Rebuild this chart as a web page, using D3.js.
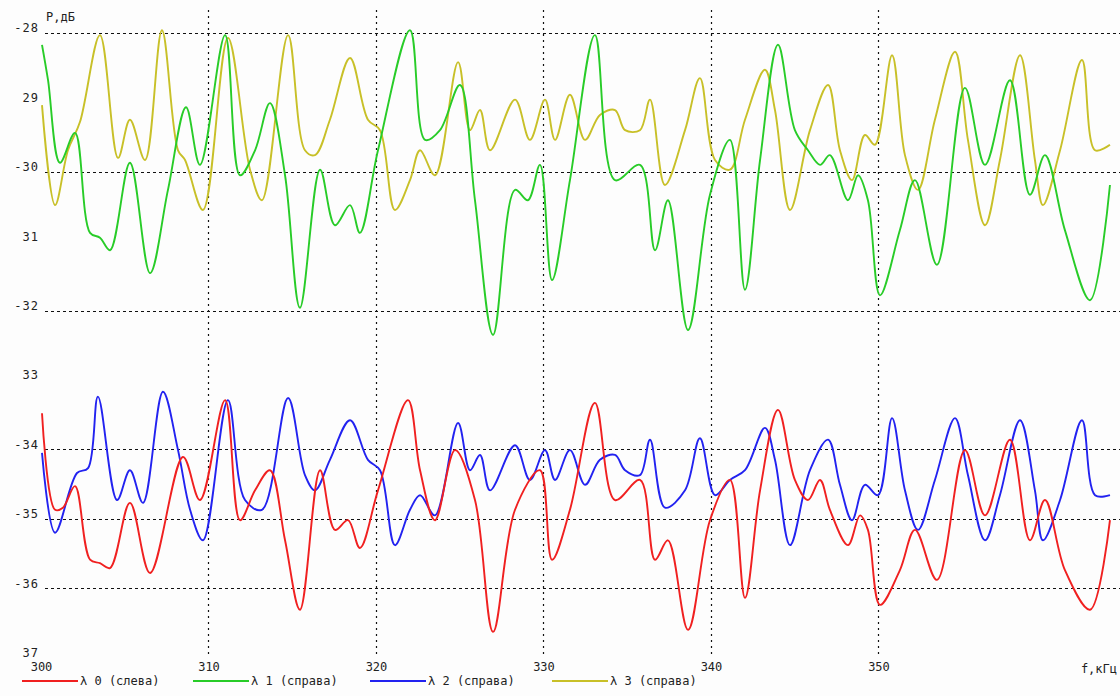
<!DOCTYPE html>
<html>
<head>
<meta charset="utf-8">
<script src="https://cdn.jsdelivr.net/npm/d3@7"></script>
<style>
  html, body { margin: 0; padding: 0; background: #fdfdfd; }
  svg { display: block; }
  text { font-family: "DejaVu Sans Mono", "Liberation Mono", monospace; fill: #222; }
</style>
</head>
<body>
<svg id="chart" width="1120" height="696"></svg>
<script>
// Frequency axis (kHz) and level axis (dB)
const xTickValues = [300, 310, 320, 330, 340, 350];
const xTickLabels = ["300", "310", "320", "330", "340", "350"];
const yTickValues = [-28, -29, -30, -31, -32, -33, -34, -35, -36, -37];
const yTickLabels = ["-28", "29", "-30", "31", "-32", "33", "-34", "-35", "-36", "37"];
const yGridValues = [-28, -30, -32, -34, -35, -36];
const xGridValues = [310, 320, 330, 340, 350];

const seriesNames = ["λ 0 (слева)", "λ 1 (справа)", "λ 2 (справа)", "λ 3 (справа)"];
const seriesColors = ["#f02020", "#28cc28", "#2222f0", "#c8c028"];

// λ 0 — red
const redFreq = [300.06,300.84,301.31,302.03,302.93,303.52,304.12,305.31,306.51,308.48,309.49,310.99,311.88,312.78,313.67,314.57,315.46,316.66,317.55,318.33,319.04,320.12,321.91,322.63,323.52,324.72,325.91,326.99,328.3,329.79,330.51,331.58,333.07,334.27,335.76,336.66,337.43,338.63,339.94,341.13,342.03,342.93,344.0,345.01,345.79,346.51,347.1,348.18,348.9,349.37,350.09,351.28,352.18,353.49,355.16,356.36,357.85,359.04,359.94,361.13,362.63,363.82];
const redLevel = [-33.48,-34.87,-34.84,-34.53,-35.59,-35.64,-35.71,-34.77,-35.78,-34.11,-34.73,-33.29,-35.02,-34.59,-34.3,-35.31,-36.31,-34.3,-35.16,-35.02,-35.42,-34.59,-33.29,-34.3,-35.02,-34.01,-34.73,-36.63,-34.87,-34.3,-35.59,-34.87,-33.33,-34.73,-34.44,-35.59,-35.31,-36.6,-35.02,-34.44,-36.14,-34.59,-33.43,-34.44,-34.73,-34.44,-34.87,-35.38,-34.95,-35.16,-36.24,-35.74,-35.16,-35.88,-34.01,-34.95,-33.86,-35.31,-34.73,-35.74,-36.31,-35.02];

// λ 1 — green
const greenFreq = [300.06,300.42,301.13,302.03,302.93,303.52,304.12,305.31,306.51,307.58,308.66,309.49,310.99,311.88,312.78,313.67,314.57,315.46,316.66,317.55,318.45,319.04,320.12,322.03,322.93,323.82,325.01,325.91,326.99,328.3,329.07,329.79,330.51,331.58,333.07,334.27,335.76,336.66,337.43,338.63,339.94,341.13,342.03,342.93,344.0,345.01,345.79,346.51,347.1,348.18,348.78,349.37,350.09,351.28,352.18,353.49,355.16,356.36,357.85,359.04,359.94,361.13,362.63,363.82];
const greenLevel = [-28.17,-28.68,-29.87,-29.44,-30.88,-30.95,-31.13,-29.87,-31.46,-30.26,-29.07,-29.9,-28.03,-30.05,-29.69,-29.01,-30.05,-31.96,-29.97,-30.77,-30.48,-30.88,-29.69,-27.96,-29.54,-29.4,-28.75,-30.41,-32.35,-30.26,-30.41,-29.9,-31.56,-30.12,-28.03,-30.12,-29.9,-31.13,-30.41,-32.28,-30.33,-29.54,-31.7,-29.83,-28.17,-29.4,-29.69,-29.9,-29.76,-30.41,-30.05,-30.41,-31.78,-30.84,-30.12,-31.34,-28.79,-29.9,-28.68,-30.33,-29.76,-30.84,-31.85,-30.19];

// λ 2 — blue
const blueFreq = [300.06,300.84,302.15,302.81,303.4,304.54,305.31,306.09,307.28,308.18,308.9,309.67,311.16,312.18,313.19,314.75,315.76,316.36,317.25,318.45,319.52,320.24,321.13,322.03,322.63,323.52,324.9,325.61,326.21,326.81,328.3,329.19,330.09,330.69,331.58,332.48,333.37,334.27,334.87,335.76,336.36,337.25,338.45,339.34,340.24,341.13,342.03,343.22,343.82,344.72,345.91,346.99,347.7,348.42,349.19,349.97,350.81,351.58,352.36,353.37,354.57,355.34,356.36,357.25,358.45,359.34,359.82,360.84,362.15,362.93,363.82];
const blueLevel = [-34.05,-35.2,-34.34,-34.27,-33.24,-34.73,-34.3,-34.77,-33.17,-34.01,-34.87,-35.31,-33.29,-34.73,-34.87,-33.26,-34.37,-34.59,-34.15,-33.58,-34.15,-34.3,-35.38,-34.87,-34.66,-34.95,-33.62,-34.3,-34.08,-34.59,-33.94,-34.44,-34.01,-34.44,-34.01,-34.51,-34.15,-34.08,-34.3,-34.37,-33.86,-34.84,-34.59,-33.84,-34.66,-34.44,-34.3,-33.69,-34.15,-35.38,-34.3,-33.86,-34.51,-35.02,-34.51,-34.66,-33.55,-34.59,-35.16,-34.44,-33.55,-34.37,-35.31,-34.66,-33.58,-34.59,-35.31,-34.73,-33.58,-34.66,-34.66];

// λ 3 — yellow
const yellowFreq = [300.06,300.84,301.61,302.33,303.52,304.6,305.31,306.21,307.22,308.18,308.6,309.67,311.16,312.48,313.19,314.75,315.76,316.36,317.25,318.45,319.52,320.24,321.13,322.03,322.63,323.52,324.9,325.61,326.21,326.81,328.3,329.19,330.09,330.69,331.58,332.48,333.37,334.27,334.87,335.76,336.36,337.25,338.45,339.34,340.24,341.13,342.03,343.22,343.82,344.72,345.91,346.99,347.7,348.42,349.19,349.79,350.81,351.58,352.36,353.37,354.57,355.34,356.36,357.25,358.45,359.34,359.82,360.84,362.15,362.93,363.82];
const yellowLevel = [-29.04,-30.48,-29.69,-29.28,-28.03,-29.8,-29.25,-29.83,-27.96,-29.69,-29.83,-30.55,-28.07,-29.97,-30.41,-28.03,-29.69,-29.76,-29.25,-28.36,-29.25,-29.4,-30.55,-30.12,-29.69,-30.05,-28.42,-29.4,-29.11,-29.69,-28.96,-29.54,-28.96,-29.54,-28.89,-29.54,-29.18,-29.11,-29.4,-29.4,-28.96,-30.19,-29.4,-28.65,-29.83,-29.97,-29.25,-28.53,-29.11,-30.55,-29.4,-28.75,-29.69,-30.12,-29.47,-29.61,-28.32,-29.76,-30.26,-29.25,-28.27,-29.54,-30.77,-29.83,-28.32,-29.83,-30.48,-29.69,-28.39,-29.69,-29.61];

const series = [
  { name: seriesNames[0], color: seriesColors[0], f: redFreq, p: redLevel },
  { name: seriesNames[1], color: seriesColors[1], f: greenFreq, p: greenLevel },
  { name: seriesNames[2], color: seriesColors[2], f: blueFreq, p: blueLevel },
  { name: seriesNames[3], color: seriesColors[3], f: yellowFreq, p: yellowLevel }
];
// draw order: top pair first, then bottom pair
const drawOrder = [3, 1, 2, 0];

const svg = d3.select("#chart");
const plot = { left: 41, right: 1118, top: 10, bottom: 655 };

const x = d3.scaleLinear().domain([300, 364.3]).range([plot.left, plot.right]);
const y = d3.scaleLinear().domain([-28, -37]).range([33, 657.6]);

// grid
const grid = svg.append("g").attr("class", "grid");
grid.selectAll("line.h").data(yGridValues).join("line")
  .attr("class", "h")
  .attr("x1", 45).attr("x2", 1120)
  .attr("y1", d => Math.round(y(d)) + 0.5).attr("y2", d => Math.round(y(d)) + 0.5)
  .attr("stroke", "#111").attr("stroke-width", 1.2)
  .attr("stroke-dasharray", "3,3");
grid.selectAll("line.v").data(xGridValues).join("line")
  .attr("class", "v")
  .attr("x1", d => Math.round(x(d)) + 0.5).attr("x2", d => Math.round(x(d)) + 0.5)
  .attr("y1", plot.top).attr("y2", plot.bottom)
  .attr("stroke", "#111").attr("stroke-width", 1.2)
  .attr("stroke-dasharray", "2,4");

// y axis labels
const yAxis = d3.axisLeft(y).tickValues(yTickValues)
  .tickFormat((d, i) => yTickLabels[i]).tickSize(0).tickPadding(0);
const gy = svg.append("g").attr("transform", "translate(39,-5)").call(yAxis);
gy.select(".domain").remove();
gy.selectAll("text").attr("font-size", 12).attr("font-family", "DejaVu Sans Mono, monospace")
  .attr("fill", "#222").attr("letter-spacing", 1);

// x axis labels
const xAxis = d3.axisBottom(x).tickValues(xTickValues)
  .tickFormat((d, i) => xTickLabels[i]).tickSize(0).tickPadding(0);
const gx = svg.append("g").attr("transform", "translate(0,662)").call(xAxis);
gx.select(".domain").remove();
gx.selectAll("text").attr("font-size", 12).attr("font-family", "DejaVu Sans Mono, monospace").attr("fill", "#222");

svg.append("text").attr("x", 1117).attr("y", 673).attr("text-anchor", "end")
  .attr("font-size", 12).text("f,кГц");
svg.append("text").attr("x", 46).attr("y", 21)
  .attr("font-size", 12).text("P,дБ");

// series lines
const line = d3.line()
  .x(d => x(d[0])).y(d => y(d[1]))
  .curve(d3.curveCatmullRom.alpha(0.5));

drawOrder.forEach(i => {
  const s = series[i];
  const pts = s.f.map((f, k) => [f, s.p[k]]);
  svg.append("path").datum(pts)
    .attr("d", line)
    .attr("fill", "none")
    .attr("stroke", s.color)
    .attr("stroke-width", 1.9)
    .attr("stroke-linejoin", "round");
});

// legend
const legendX = [22, 193, 370, 552];
const lg = svg.append("g").attr("class", "legend");
series.forEach((s, i) => {
  const g = lg.append("g").attr("transform", `translate(${legendX[i]},681)`);
  g.append("line").attr("x1", 0).attr("x2", 56).attr("y1", 0).attr("y2", 0)
    .attr("stroke", s.color).attr("stroke-width", 2);
  g.append("text").attr("x", 58).attr("y", 4).attr("font-size", 12)
    .attr("xml:space", "preserve").text(s.name);
});
</script>
</body>
</html>
